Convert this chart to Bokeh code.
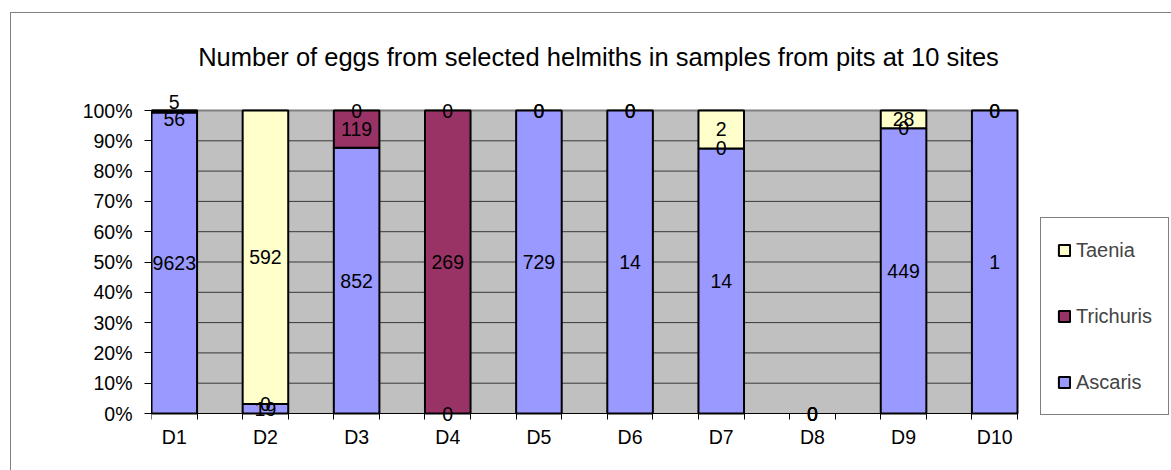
from bokeh.plotting import figure
from bokeh.models import (ColumnDataSource, FixedTicker, NumeralTickFormatter, LabelSet,
                          Label, Legend, LegendItem, Range1d)
from bokeh.core.properties import value
from bokeh.embed import file_html
from bokeh.resources import INLINE

# ---------------- data ----------------
sites = ["D1", "D2", "D3", "D4", "D5", "D6", "D7", "D8", "D9", "D10"]
ascaris = [9623, 19, 852, 0, 729, 14, 14, 0, 449, 1]
trichuris = [56, 0, 119, 269, 0, 0, 0, 0, 0, 0]
taenia = [5, 592, 0, 0, 0, 0, 2, 0, 28, 0]
series_names = ["Ascaris", "Trichuris", "Taenia"]
series_values = [ascaris, trichuris, taenia]
y_tick_values = [0.0, 0.1, 0.2, 0.3, 0.4, 0.5, 0.6, 0.7, 0.8, 0.9, 1.0]
title_text = "Number of eggs from selected helmiths in samples from pits at 10 sites"

# ---------------- layout / styles ----------------
W, H = 1171, 470
FRAME_LEFT = 151          # left edge of the plot area
PLOT_RIGHT = 1017         # right edge of the plot area (gray)
PLOT_TOP = 110            # 100 % line
PLOT_BOTTOM = 413         # 0 % line
colors = {"Ascaris": "#9999FF", "Trichuris": "#993366", "Taenia": "#FFFFCC"}
FONT = "Liberation Sans"
# Excel moved the two crowded labels of D1 apart (pixel nudges)
label_nudges = {(0, "Taenia"): 9, (0, "Trichuris"): -7}

slot = 2  # a blank slot between sites
xs = [i * slot for i in range(len(sites))]
n_slots = (len(sites) - 1) * slot + 1
x_lo, x_hi = -0.5, n_slots - 0.5
px_per_slot = (PLOT_RIGHT - FRAME_LEFT) / n_slots
px_per_unit = PLOT_BOTTOM - PLOT_TOP
x_end = x_lo + (W - FRAME_LEFT) / px_per_slot     # frame extends to the right edge
y_end = PLOT_BOTTOM / px_per_unit                 # ... to the top edge
y_start = -(H - PLOT_BOTTOM) / px_per_unit        # ... and to the bottom edge
totals = [sum(v[i] for v in series_values) for i in range(len(sites))]

p = figure(width=W, height=H, output_backend="svg", toolbar_location=None,
           x_range=Range1d(x_lo, x_end), y_range=Range1d(y_start, y_end),
           min_border_left=FRAME_LEFT, min_border_right=0,
           min_border_top=0, min_border_bottom=0)
p.background_fill_alpha = 0
p.border_fill_alpha = 0
p.outline_line_color = None
p.grid.visible = False
p.styles = {
    "background": "linear-gradient(#808080,#808080) 10px 12px / 1px 600px no-repeat, "
                  "linear-gradient(#808080,#808080) 10px 12px / 1300px 1px no-repeat, white"
}

# gray plot area (0..100%) with its grid lines
p.quad(left=[x_lo], right=[x_hi], bottom=[0], top=[1], fill_color="#C0C0C0",
       line_color=None, level="image")
grid_y = y_tick_values[1:-1]
p.segment(x0=[x_lo] * len(grid_y), x1=[x_hi] * len(grid_y), y0=grid_y, y1=grid_y,
          line_color="#383838", line_width=1, level="underlay")
p.segment(x0=[x_lo], x1=[x_hi], y0=[1], y1=[1], line_color="#808080", line_width=2,
          level="underlay")

renderers = {}
lab_x, lab_y, lab_t, lab_off = [], [], [], []
cum = [0.0] * len(sites)
for name, vals in zip(series_names, series_values):
    bx, bb, bt = [], [], []
    for i, v in enumerate(vals):
        frac = v / totals[i] if totals[i] else 0.0
        b = cum[i]
        t = b + frac
        if v > 0:
            bx.append(xs[i]); bb.append(b); bt.append(t)
        lab_x.append(xs[i]); lab_y.append((b + t) / 2); lab_t.append(str(v))
        lab_off.append(label_nudges.get((i, name), 0))
        cum[i] = t
    src = ColumnDataSource(dict(x=bx, bottom=bb, top=bt))
    renderers[name] = p.vbar(x="x", bottom="bottom", top="top", width=1, source=src,
                             fill_color=colors[name], line_color="black", line_width=2)

labels_src = ColumnDataSource(dict(x=lab_x, y=lab_y, text=lab_t, yoff=lab_off))
p.add_layout(LabelSet(x="x", y="y", text="text", y_offset="yoff", source=labels_src,
                      text_align="center", text_baseline="middle",
                      text_font=value(FONT), text_font_size=value("19.5px"),
                      text_color="black"))

# axes
p.yaxis.ticker = FixedTicker(ticks=y_tick_values)
p.yaxis.bounds = (0, 1)
p.yaxis.formatter = NumeralTickFormatter(format="0%")
p.yaxis.major_tick_out = 7
p.yaxis.major_tick_in = 0
p.yaxis.minor_tick_line_color = None
p.yaxis.major_label_standoff = 12
p.yaxis.axis_line_color = "black"
p.yaxis.major_tick_line_color = "black"

p.xaxis.fixed_location = 0
p.xaxis.ticker = FixedTicker(ticks=xs, minor_ticks=[k - 0.5 for k in range(n_slots + 1)])
p.xaxis.bounds = (x_lo, x_hi)
p.xaxis.major_label_overrides = {x: s for x, s in zip(xs, sites)}
p.xaxis.major_tick_out = 0
p.xaxis.major_tick_in = 0
p.xaxis.minor_tick_out = 6
p.xaxis.minor_tick_in = 0
p.xaxis.minor_tick_line_color = "black"
p.xaxis.major_label_standoff = 6
p.xaxis.axis_line_color = "black"

for ax in (p.xaxis, p.yaxis):
    ax.major_label_text_font = FONT
    ax.major_label_text_font_size = "19.5px"
    ax.major_label_text_color = "black"

# title (inside the extended frame, screen units from the frame's bottom-left)
p.add_layout(Label(x=598 - FRAME_LEFT, y=H - 56, x_units="screen", y_units="screen",
                   text=title_text, text_align="center", text_baseline="alphabetic",
                   text_font=FONT, text_font_size="25.5px", text_color="black"))

# legend
legend = Legend(items=[LegendItem(label=n, renderers=[renderers[n]])
                       for n in ["Taenia", "Trichuris", "Ascaris"]],
                location=(1040 - FRAME_LEFT, H - 415), orientation="vertical",
                padding=16, spacing=34, label_height=32, label_width=75,
                glyph_width=14, glyph_height=14, label_standoff=5,
                label_text_font=FONT, label_text_font_size="20px",
                border_line_color="black", border_line_width=1,
                background_fill_color="white", background_fill_alpha=1)
p.add_layout(legend)

open("out.html", "w").write(file_html(p, INLINE))
